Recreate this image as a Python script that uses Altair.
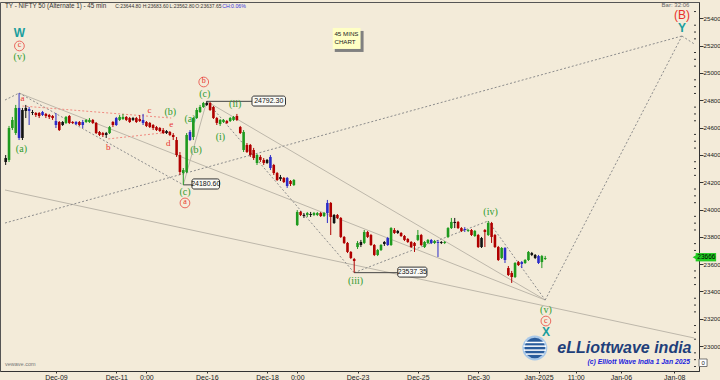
import altair as alt
import pandas as pd

# ---------------- candle data (45-min bars, oldest first) ----------------
candle_color = list(
    "kggg" "bkkbk" "rrbrrr"
    "brkgrrbrb"
    "ggrrrrkgr"
    "bggrrkrrb"
    "rrrrrrkrr"
    "rrggbgggg"
    "krrrggrgg"
    "rrgrrrgrr"
    "kbrrkrbrg"
    "grkgkggrg"
    "brkrrrrrr"
    "gkgrrrggk"
    "bgrkrrrrr"
    "grggbgbkg"
    "ggkrrbgrg"
    "rkrgrrrgb"
    "rrgrbggkk"
    "bgg"
)
candle_open = [24377, 24363, 24597, 24560, 24524, 24729, 24744, 24722, 24714, 24707, 24707, 24692, 24700, 24692, 24685,
               24619, 24641, 24641, 24634, 24685, 24641, 24626, 24641, 24619,
               24641, 24641, 24656, 24634, 24568, 24560, 24560, 24560, 24641,
               24619, 24656, 24663, 24678, 24670, 24670, 24670, 24663, 24634,
               24641, 24634, 24619, 24604, 24597, 24582, 24575, 24568, 24546,
               24509, 24399, 24267, 24275, 24568, 24531, 24670, 24714, 24751,
               24780, 24780, 24751, 24670, 24626, 24641, 24648, 24648, 24656,
               24685, 24604, 24568, 24421, 24473, 24436, 24399, 24363, 24363,
               24363, 24304, 24326, 24267, 24238, 24231, 24172, 24209, 24179,
               23886, 23982, 23960, 23960, 23967, 23960, 23960, 23974, 23952,
               23974, 24048, 23960, 23960, 23938, 23799, 23755, 23689, 23637,
               23725, 23762, 23755, 23835, 23813, 23740, 23667, 23703, 23762,
               23740, 23740, 23850, 23843, 23828, 23806, 23784, 23762, 23755,
               23777, 23813, 23725, 23755, 23755, 23755, 23755, 23762, 23755,
               23799, 23864, 23909, 23909, 23864, 23850, 23843, 23850, 23806,
               23813, 23791, 23850, 23813, 23901, 23813, 23725, 23645, 23630,
               23571, 23535, 23505, 23615, 23601, 23608, 23630, 23681, 23667,
               23608, 23615, 23637.65]
candle_high = [24399, 24612, 24678, 24766, 24853, 24744, 24766, 24751, 24729, 24714, 24714, 24722, 24707, 24700, 24692,
               24707, 24648, 24648, 24685, 24692, 24648, 24648, 24648, 24656,
               24663, 24670, 24663, 24641, 24575, 24568, 24568, 24612, 24648,
               24678, 24692, 24700, 24685, 24678, 24678, 24678, 24692, 24700,
               24648, 24641, 24626, 24612, 24604, 24597, 24582, 24575, 24560,
               24531, 24421, 24304, 24560, 24582, 24678, 24744, 24766, 24788,
               24792.3, 24788, 24758, 24678, 24663, 24663, 24656, 24678, 24685,
               24700, 24612, 24582, 24487, 24480, 24451, 24407, 24399, 24377,
               24370, 24399, 24334, 24275, 24253, 24238, 24238, 24216, 24223,
               23996, 23989, 23974, 23982, 23982, 23982, 23982, 23982, 23982,
               24070, 24055, 23967, 23967, 23945, 23806, 23762, 23696, 23645,
               23769, 23777, 23850, 23843, 23821, 23747, 23711, 23747, 23769,
               23799, 23871, 23864, 23850, 23835, 23813, 23791, 23769, 23762,
               23850, 23821, 23769, 23784, 23784, 23777, 23777, 23769, 23769,
               23871, 23938, 23938, 23916, 23871, 23871, 23857, 23857, 23850,
               23821, 23799, 23857, 23916, 23909, 23821, 23733, 23725, 23725,
               23586, 23550, 23615, 23623, 23623, 23637, 23696, 23689, 23674,
               23667, 23667, 23660]
candle_low = [24326, 24348, 24582, 24546, 24509, 24509, 24670, 24619, 24692, 24678, 24670, 24685, 24670, 24663, 24656,
              24597, 24575, 24612, 24626, 24626, 24626, 24619, 24612, 24597,
              24634, 24634, 24626, 24553, 24538, 24531, 24524, 24553, 24604,
              24612, 24648, 24656, 24648, 24634, 24648, 24634, 24641, 24619,
              24604, 24597, 24582, 24575, 24568, 24553, 24553, 24538, 24509,
              24385, 24253, 24180.6, 24267, 24502, 24509, 24663, 24707, 24744,
              24758, 24722, 24663, 24619, 24612, 24634, 24626, 24641, 24648,
              24648, 24553, 24421, 24414, 24385, 24363, 24326, 24348, 24326,
              24334, 24289, 24253, 24209, 24209, 24194, 24158, 24172, 24172,
              23879, 23952, 23938, 23945, 23945, 23952, 23952, 23945, 23945,
              23901, 23813, 23894, 23930, 23791, 23747, 23681, 23637, 23537.35,
              23711, 23725, 23747, 23791, 23733, 23659, 23659, 23696, 23733,
              23733, 23733, 23821, 23821, 23799, 23769, 23755, 23718, 23689,
              23769, 23733, 23718, 23747, 23747, 23747, 23652, 23747, 23747,
              23791, 23857, 23864, 23857, 23835, 23835, 23835, 23806, 23799,
              23718, 23718, 23725, 23806, 23755, 23718, 23623, 23637, 23608,
              23513, 23462, 23498, 23586, 23571, 23601, 23623, 23659, 23637,
              23601, 23571, 23630]
candle_close = [24348, 24597, 24656, 24744, 24744, 24524, 24722, 24736, 24707, 24692, 24685, 24714, 24685, 24678, 24670,
                24648, 24582, 24619, 24678, 24634, 24634, 24641, 24619, 24641,
                24656, 24656, 24634, 24560, 24546, 24546, 24546, 24604, 24619,
                24670, 24678, 24678, 24656, 24641, 24656, 24641, 24648, 24656,
                24612, 24604, 24597, 24582, 24575, 24560, 24560, 24546, 24531,
                24399, 24275, 24289, 24546, 24509, 24670, 24729, 24751, 24780,
                24766, 24729, 24670, 24634, 24656, 24656, 24634, 24670, 24678,
                24656, 24560, 24436, 24473, 24399, 24377, 24341, 24385, 24341,
                24341, 24385, 24267, 24216, 24223, 24201, 24231, 24187, 24216,
                23982, 23960, 23952, 23974, 23960, 23974, 23974, 23952, 23974,
                24048, 23945, 23901, 23938, 23799, 23755, 23689, 23645, 23623,
                23755, 23740, 23835, 23799, 23740, 23667, 23703, 23740, 23747,
                23791, 23864, 23828, 23828, 23806, 23777, 23762, 23725, 23733,
                23813, 23740, 23762, 23777, 23777, 23769, 23762, 23755, 23762,
                23864, 23909, 23901, 23864, 23843, 23857, 23850, 23813, 23843,
                23725, 23725, 23835, 23901, 23799, 23725, 23630, 23718, 23718,
                23520, 23505, 23608, 23593, 23615, 23630, 23689, 23667, 23645,
                23659, 23659, 23644.8]

# ---------------- axis ticks ----------------
x_tick_pos = [15, 33, 42, 60, 78, 87, 105, 123, 141, 159, 170.1, 183.6, 199.5]
x_tick_lab = ["Dec-09", "Dec-11", "0:00", "Dec-16", "Dec-18", "0:00", "Dec-23", "Dec-25",
              "Dec-30", "Jan-2025", "11:00", "Jan-06", "Jan-08"]
y_ticks = list(range(23000, 25401, 200))
y_minor = [v for v in range(22850, 25500, 50) if v % 200 != 0]

# ---------------- wave pivots & lines ----------------
dotted_lines = [
    (-0.2, 24802, 4, 24853),
    (4, 24853, 53, 24180.6),
    (60, 24792.3, 104, 23537.35),
    (104, 23537.35, 144, 23916),
    (144, 23916, 161, 23337),
    (161, 23337, 201.8, 25271),
    (201.8, 25271, 205.4, 25214),
    (-0.2, 23901, 201.8, 25271),
]
solid_lines = [
    (53, 24180.6, 60, 24792.3),
    (60, 24792.3, 161, 23337),
    (4, 24853, 161, 23337),
    (-0.2, 24143, 205.4, 23059),
]
red_lines = [
    (5, 24758, 49.4, 24670),
    (30.6, 24517, 49.4, 24568),
]
conn_lines = [
    (60, 24792.3, 73.5, 24792.3),
    (53, 24180.6, 55.6, 24180.6),
    (104, 23537.35, 117, 23537.35),
]
value_boxes = [
    ("24792.30", 73.5, 83.5, 24758, 24831, 78.5, 24795),
    ("24180.60", 55.6, 63.8, 24150, 24224, 59.7, 24187),
    ("23537.35", 117.0, 125.7, 23505, 23578, 121.35, 23541),
]

green_labels = [("(v)", 4.1, 25117), ("(a)", 4.7, 24443), ("(b)", 49.1, 24714), ("(a)", 55.0, 24663),
                ("(b)", 56.8, 24436), ("(c)", 53.5, 24128), ("(c)", 59.4, 24846), ("(ii)", 68.5, 24773),
                ("(i)", 64.1, 24531), ("(iii)", 104.4, 23476), ("(iv)", 144.7, 23982), ("(v)", 161.2, 23264)]
red_labels = [("a", 5.0, 24817), ("b", 30.6, 24458), ("c", 42.9, 24729), ("e", 49.4, 24626), ("d", 48.5, 24487)]
circled_labels = [("c", 4.1, 25198), ("a", 53.5, 24048), ("b", 59.1, 24934), ("c", 161.2, 23183)]
teal_labels = [("W", 4.1, 25293), ("X", 161.2, 23103), ("Y", 201.8, 25330)]
big_red_labels = [("(B)", 201.8, 25425)]

XD = [-0.2, 205.4]
YD = [22817, 25520]
xs = alt.Scale(domain=XD, nice=False, zero=False)
ys = alt.Scale(domain=YD, nice=False, zero=False)

label_expr = "[" + ",".join("'%s'" % s for s in x_tick_lab) + "][indexof([" + \
    ",".join(str(v) for v in x_tick_pos) + "], datum.value)]"

xaxis = alt.Axis(values=x_tick_pos, labelExpr=label_expr, title=None, grid=False, tickSize=2,
                 labelFontSize=7, labelPadding=0, labelFont="Liberation Sans", labelColor="#222",
                 domainColor="#333", tickColor="#333", labelFlush=False)
yaxis = alt.Axis(orient="right", values=y_ticks, format="d", title=None, grid=False, tickSize=4,
                 labelFontSize=6.2, labelPadding=0, labelFont="Liberation Sans", labelColor="#222",
                 domainColor="#333", tickColor="#333")


def X(f):
    return alt.X(f, type="quantitative", scale=xs, axis=xaxis)


def Y(f):
    return alt.Y(f, type="quantitative", scale=ys, axis=yaxis)


cdf = pd.DataFrame({"i": list(range(len(candle_open))), "c": candle_color, "o": candle_open,
                    "h": candle_high, "l": candle_low, "cl": candle_close})
cscale = alt.Scale(domain=["g", "r", "b", "k"], range=["#1E9A1E", "#B00000", "#2B2BC8", "#111111"])

wicks = alt.Chart(cdf).mark_rule(strokeWidth=1).encode(
    x=X("i"), y=Y("l"), y2="h", color=alt.Color("c:N", scale=cscale, legend=None))
bodies = alt.Chart(cdf).mark_bar(size=2.6).encode(
    x=X("i"), y=Y("o"), y2="cl", color=alt.Color("c:N", scale=cscale, legend=None))


def lines_df(rows):
    return pd.DataFrame(rows, columns=["x1", "y1", "x2", "y2"])


def line_layer(rows, **kw):
    return alt.Chart(lines_df(rows)).mark_rule(**kw).encode(
        x=X("x1"), y=Y("y1"), x2="x2", y2="y2")


dotted = line_layer(dotted_lines, color="#8C8C8C", strokeDash=[2, 2], strokeWidth=1)
solid = line_layer(solid_lines, color="#BDB7AA", strokeWidth=1)
redd = line_layer(red_lines, color="#F08A80", strokeDash=[2, 2], strokeWidth=1)
conn = line_layer(conn_lines, color="#444444", strokeWidth=1)

vb = pd.DataFrame(value_boxes, columns=["t", "x1", "x2", "y1", "y2", "xc", "yc"])
vbox = alt.Chart(vb).mark_rect(fill="#FAFAF6", stroke="#333", strokeWidth=1, cornerRadius=2).encode(
    x=X("x1"), x2="x2", y=Y("y1"), y2="y2")
vtext = alt.Chart(vb).mark_text(fontSize=7, font="Liberation Sans", color="#111").encode(
    x=X("xc"), y=Y("yc"), text="t")


def text_layer(rows, **kw):
    d = pd.DataFrame(rows, columns=["t", "x", "y"])
    return alt.Chart(d).mark_text(**kw).encode(x=X("x"), y=Y("y"), text="t")


g_txt = text_layer(green_labels, font="Liberation Serif", fontSize=10, color="#2E9B2E")
r_txt = text_layer(red_labels, font="Liberation Serif", fontSize=9, color="#E8302A")
t_txt = text_layer(teal_labels, font="Liberation Sans", fontSize=12, fontWeight="bold", color="#1B9E9E")
B_txt = text_layer(big_red_labels, font="Liberation Sans", fontSize=12, color="#E8302A")
c_df = pd.DataFrame(circled_labels, columns=["t", "x", "y"])
c_circ = alt.Chart(c_df).mark_point(shape="circle", filled=False, color="#E8302A", strokeWidth=1, size=95).encode(
    x=X("x"), y=Y("y"))
c_txt = alt.Chart(c_df).mark_text(font="Liberation Serif", fontSize=8, color="#E8302A", dy=-0.5).encode(
    x=X("x"), y=Y("y"), text="t")

minor = alt.Chart(pd.DataFrame({"v": y_minor, "a": 205.4, "b": 206.0})).mark_rule(
    color="#333", strokeWidth=1).encode(x=X("a"), x2="b", y=Y("v"))

header = pd.DataFrame({
    "t": ["C:23644.80", "H:23683.60", "L:23562.80", "O:23637.65"],
    "x": [32.7, 40.9, 48.9, 56.6], "y": [25493] * 4})
title_txt = text_layer([("TY - NIFTY 50 (Alternate 1) - 45 min", -0.2, 25493)], align="left", fontSize=6.3,
                       font="Liberation Sans", color="#333")
head_txt = alt.Chart(header).mark_text(align="left", fontSize=5.0, font="Liberation Sans", color="#333").encode(
    x=X("x"), y=Y("y"), text="t")
ch_txt = text_layer([("CH:0.06%", 64.6, 25493)], align="left", fontSize=5.2, font="Liberation Sans", color="#3333DD")
bar_txt = text_layer([("Bar: 32:06", 204.0, 25497)], align="right", fontSize=6, font="Liberation Sans", color="#666")
site_txt = text_layer([("vewave.com", -0.2, 22868)], align="left", fontSize=5.5, font="Liberation Sans", color="#777")

note_shadow = alt.Chart(pd.DataFrame({"x1": [98.2], "x2": [106.8], "y1": [25154], "y2": [25308]})).mark_rect(
    fill="#808080").encode(x=X("x1"), x2="x2", y=Y("y1"), y2="y2")
note_box = alt.Chart(pd.DataFrame({"x1": [97.6], "x2": [105.9], "y1": [25176], "y2": [25330]})).mark_rect(
    fill="#FFFFC4").encode(x=X("x1"), x2="x2", y=Y("y1"), y2="y2")
note_txt = text_layer([("45 MINS", 98.1, 25286), ("CHART", 98.1, 25227)], align="left", fontSize=6.2,
                      font="Liberation Sans", color="#222")

tag_box = alt.Chart(pd.DataFrame({"x1": [205.9], "x2": [212.0], "y1": [23620], "y2": [23681]})).mark_rect(
    fill="#22CC22").encode(x=X("x1"), x2="x2", y=Y("y1"), y2="y2")
tag_arrow = alt.Chart(pd.DataFrame({"x": [205.7], "y": [23650]})).mark_point(
    shape="triangle-left", filled=True, color="#22CC22", size=30, opacity=1).encode(x=X("x"), y=Y("y"))
tag_txt = text_layer([("23666", 206.4, 23650)], align="left", fontSize=6.5, font="Liberation Sans", color="#000")
zero_box = alt.Chart(pd.DataFrame({"x1": [206.9], "x2": [209.3], "y1": [22850], "y2": [22905]})).mark_rect(
    fill="#FFFFFF", stroke="#555", strokeWidth=0.8).encode(x=X("x1"), x2="x2", y=Y("y1"), y2="y2")
zero_txt = text_layer([("0", 208.1, 22877)], fontSize=6, font="Liberation Sans", color="#222")

globe_outer = alt.Chart(pd.DataFrame({"x": [157.9], "y": [22985]})).mark_point(
    shape="circle", filled=True, color="#A9C8E8", size=620, opacity=1).encode(x=X("x"), y=Y("y"))
globe_inner = alt.Chart(pd.DataFrame({"x": [157.9], "y": [22985]})).mark_point(
    shape="circle", filled=True, color="#2A5C9C", size=420, opacity=1).encode(x=X("x"), y=Y("y"))
stripes = line_layer([(155.0, 23026, 160.8, 23026), (154.5, 22999, 161.3, 22999),
                      (154.6, 22970, 161.2, 22970), (155.3, 22941, 160.5, 22941)],
                     color="#FFFFFF", strokeWidth=1.5)
logo_txt = text_layer([("eLLiottwave india", 164.6, 22985)], align="left", fontSize=16, font="Liberation Sans",
                      fontStyle="italic", fontWeight="bold", color="#1F3F7A")
copy_txt = text_layer([("(c) Elliott Wave India 1 Jan 2025", 173.6, 22883)], align="left", fontSize=6.8,
                      font="Liberation Sans", fontStyle="italic", fontWeight="bold", color="#2222DD")

chart = alt.layer(
    solid, dotted, redd, conn,
    wicks, bodies,
    vbox, vtext, note_shadow, note_box, note_txt,
    g_txt, r_txt, t_txt, B_txt, c_circ, c_txt,
    minor, title_txt, head_txt, ch_txt, bar_txt, site_txt,
    tag_box, tag_arrow, tag_txt, zero_box, zero_txt,
    globe_outer, globe_inner, stripes, logo_txt, copy_txt,
).properties(
    width=699, height=369,
    autosize=alt.AutoSizeParams(type="none"),
    padding={"left": 0, "top": 2, "right": 21, "bottom": 9},
    background="#F3EBD9",
).configure_view(stroke="#555", strokeWidth=1)

chart.save("out.html", embed_options={"renderer": "svg", "actions": False})
